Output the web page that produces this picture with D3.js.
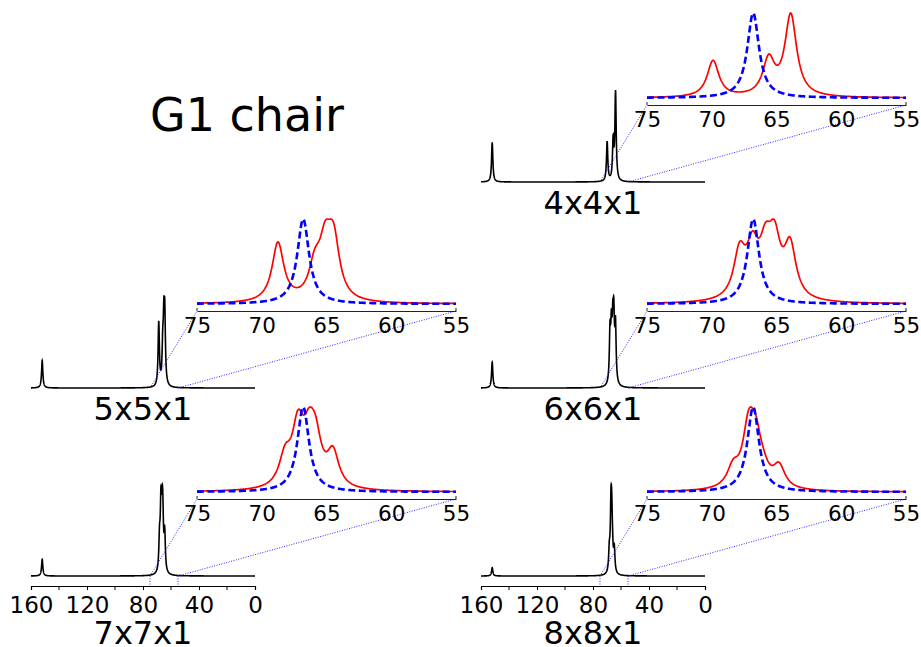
<!DOCTYPE html>
<html>
<head>
<meta charset="utf-8">
<script src="https://cdn.jsdelivr.net/npm/d3@7"></script>
<style>
  body { margin: 0; background: #fff; }
  text { font-family: "DejaVu Sans", sans-serif; fill: #000; }
</style>
</head>
<body>
<div id="chart"></div>
<script>
var width = 921,
    height = 647;

// names of the supercells
var panelNames = ["4x4x1", "5x5x1", "6x6x1", "7x7x1", "8x8x1"];

// red spectrum: peak positions (ppm) and heights
var redShifts = [
  [69.9, 65.6, 63.9],
  [68.75, 65.9, 65.1, 64.45],
  [67.85, 66.85, 65.85, 65.15, 63.95],
  [68.2, 67.2, 66.35, 65.85, 64.5],
  [68.35, 67.15, 66.6, 66.0, 64.8]
];
var redHeights = [
  [0.43, 0.42, 0.96],
  [0.63, 0.33, 0.52, 0.6],
  [0.57, 0.57, 0.55, 0.65, 0.65],
  [0.35, 0.7, 0.5, 0.5, 0.42],
  [0.2, 0.6, 0.45, 0.1, 0.23]
];

// blue dashed reference line
var blueShift = 66.8;

// lone peak of the full spectrum and its height next to the main group
var farShift = 152;
var farHeights = [0.43, 0.30, 0.28, 0.18, 0.09];

// axes
var fullRange = [160, 0];
var zoomRange = [75, 55];
var mainTicks = [160, 120, 80, 40, 0];
var mainMinorTicks = [140, 100, 60, 20];
var insetTicks = [75, 70, 65, 60, 55];

// line half width (ppm)
var gamma = 0.55;

// where each panel sits: main x start, main axis y, inset x start, inset axis y
var layout = [
  {mx: 481, ay: 192, ix: 647, iy: 105, axis: false},
  {mx: 31,  ay: 398, ix: 197, iy: 311, axis: false},
  {mx: 481, ay: 398, ix: 647, iy: 311, axis: false},
  {mx: 31,  ay: 586, ix: 197, iy: 499, axis: true},
  {mx: 481, ay: 586, ix: 647, iy: 499, axis: true}
];

var svg = d3.select("#chart")
  .append("svg")
  .attr("width", width)
  .attr("height", height);

// lorentzian sum of a peak list
function spectrum(shifts, heights, x) {
  var s = 0;
  for (var i = 0; i < shifts.length; i++) {
    var d = (x - shifts[i]) / gamma;
    s += heights[i] / (1 + d * d);
  }
  return s;
}

var zoomX = d3.range(zoomRange[0], zoomRange[1] - 0.001, -0.04);
var fullX = d3.range(fullRange[0], fullRange[1] - 0.001, -0.05);

// title
svg.append("text")
  .attr("x", 150)
  .attr("y", 131)
  .attr("font-size", "46px")
  .text("G1 chair");

panelNames.forEach(function(name, p) {
  var L = layout[p];

  // full spectrum
  var xMain = d3.scaleLinear().domain(fullRange).range([L.mx, L.mx + 224]);
  var base = L.ay - 10;
  var yMain = d3.scaleLinear().domain([0, 1]).range([base, base - 92]);

  var redMax = d3.max(zoomX, function(x) { return spectrum(redShifts[p], redHeights[p], x); });
  var mainVals = fullX.map(function(x) {
    return spectrum(redShifts[p], redHeights[p], x) / redMax + spectrum([farShift], [farHeights[p]], x);
  });
  var mainMax = d3.max(mainVals);

  svg.append("path")
    .datum(fullX.map(function(x, i) { return [x, mainVals[i] / mainMax]; }))
    .attr("fill", "none")
    .attr("stroke", "#000")
    .attr("stroke-width", 1.6)
    .attr("d", d3.line()
      .x(function(d) { return xMain(d[0]); })
      .y(function(d) { return yMain(d[1]); }));

  if (L.axis) {
    var axisG = svg.append("g")
      .attr("transform", "translate(0," + L.ay + ")")
      .call(d3.axisBottom(xMain)
        .tickValues(mainTicks)
        .tickSize(4)
        .tickPadding(2)
        .tickFormat(d3.format("d")));
    axisG.select(".domain").attr("stroke", "#000").attr("stroke-width", 1.2);
    axisG.selectAll("text").attr("font-size", "23px").attr("font-family", "DejaVu Sans").attr("dy", "0.9em");
    axisG.selectAll(".minor")
      .data(mainMinorTicks)
      .enter().append("line")
      .attr("x1", function(d) { return xMain(d); })
      .attr("x2", function(d) { return xMain(d); })
      .attr("y1", 0)
      .attr("y2", 4)
      .attr("stroke", "#000");

    // dotted marks of the zoomed range
    zoomRange.forEach(function(v) {
      svg.append("line")
        .attr("x1", xMain(v)).attr("x2", xMain(v))
        .attr("y1", base).attr("y2", L.ay)
        .attr("stroke", "#2a2aff")
        .attr("stroke-dasharray", "1,1.5");
    });
  }

  // panel label
  svg.append("text")
    .attr("x", L.mx + 112)
    .attr("y", L.axis ? L.ay + 58 : L.ay + 22)
    .attr("text-anchor", "middle")
    .attr("font-size", "32px")
    .text(name);

  // inset
  var xIn = d3.scaleLinear().domain(zoomRange).range([L.ix, L.ix + 259]);
  var inBase = L.iy - 7;
  var yIn = d3.scaleLinear().domain([0, 1]).range([inBase, inBase - 85]);

  // connectors between the zoom range and the inset
  zoomRange.forEach(function(v) {
    svg.append("line")
      .attr("x1", xMain(v)).attr("y1", base)
      .attr("x2", xIn(v)).attr("y2", L.iy)
      .attr("stroke", "#2a2aff")
      .attr("stroke-width", 1)
      .attr("stroke-dasharray", "1,1.5");
  });

  var inLine = d3.line()
    .x(function(d) { return xIn(d[0]); })
    .y(function(d) { return yIn(d[1]); });

  svg.append("path")
    .datum(zoomX.map(function(x) { return [x, spectrum(redShifts[p], redHeights[p], x) / redMax]; }))
    .attr("fill", "none")
    .attr("stroke", "red")
    .attr("stroke-width", 1.7)
    .attr("d", inLine);

  svg.append("path")
    .datum(zoomX.map(function(x) { return [x, spectrum([blueShift], [1], x)]; }))
    .attr("fill", "none")
    .attr("stroke", "blue")
    .attr("stroke-width", 2.6)
    .attr("stroke-dasharray", "7,3.5")
    .attr("d", inLine);

  var inAxis = svg.append("g")
    .attr("transform", "translate(0," + L.iy + ")")
    .call(d3.axisBottom(xIn)
      .tickValues(insetTicks)
      .tickSize(0)
      .tickPadding(3)
      .tickFormat(d3.format("d")));
  inAxis.select(".domain").attr("stroke", "#222").attr("stroke-width", 1.2);
  inAxis.selectAll("text").attr("font-size", "21.5px").attr("font-family", "DejaVu Sans").attr("dy", "0.88em");
  zoomRange.forEach(function(v) {
    inAxis.append("line")
      .attr("x1", xIn(v)).attr("x2", xIn(v))
      .attr("y1", 0).attr("y2", -3)
      .attr("stroke", "#222");
  });
});
</script>
</body>
</html>
